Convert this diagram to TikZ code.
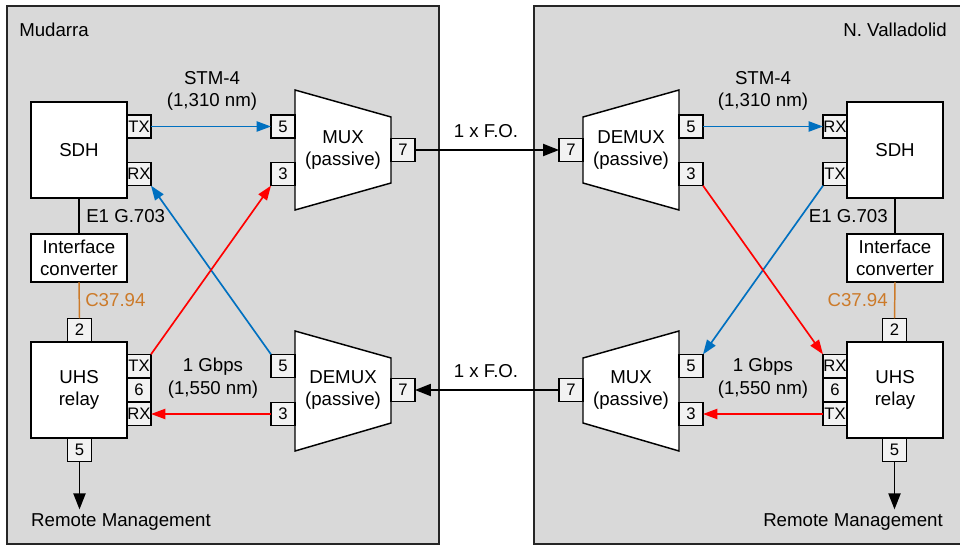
\documentclass[tikz,border=0pt]{standalone}
\usepackage{fontspec}
\setmainfont{Liberation Sans}
\usetikzlibrary{arrows.meta}
\definecolor{pgrau}{HTML}{D9D9D9}
\definecolor{hfill}{HTML}{F2F2F2}
\definecolor{fblau}{HTML}{0070C0}
\definecolor{frot}{HTML}{FF0000}
\definecolor{forange}{HTML}{CC7A29}
\newcommand{\btxt}{\fontsize{14}{16.8}\selectfont}
\newcommand{\ptxt}{\fontsize{12.5}{13}\selectfont}
\tikzset{
  panel/.style={fill=pgrau,draw=black!85,line width=1.1pt},
  unit/.style={draw,fill=white,line width=1.1pt,inner sep=0pt,outer sep=0pt,
    minimum width=72pt,minimum height=72pt,align=center,font=\btxt},
  conv/.style={unit,minimum height=36pt},
  port/.style={draw,fill=hfill,line width=1.1pt,inner sep=0pt,outer sep=0pt,
    minimum width=18pt,minimum height=17.5pt,font=\ptxt},
  trap/.style={draw,fill=white,line width=1.1pt,line join=miter},
  lbl/.style={align=center,font=\btxt,inner sep=0pt},
  fo/.style={-{Triangle[length=4.2mm,width=3.2mm]},black,line width=1.1pt},
  blau/.style={-{Triangle[length=3.8mm,width=2.7mm]},fblau,line width=1.25pt},
  rot/.style={-{Triangle[length=3.8mm,width=2.7mm]},frot,line width=1.25pt},
  tlink/.style={black,line width=1.1pt},
}

\begin{document}
\begin{tikzpicture}[x=0.75pt,y=-0.75pt]
  \useasboundingbox (0,0) rectangle (960,546);
  \clip (0,0) rectangle (960,546);
  % Stationen
  \draw[panel] (7,6) rectangle (439,544);
  \draw[panel] (534,6) rectangle (975,544);
  \node[lbl,anchor=west] (mud) at (19,30) {Mudarra};
  \node[lbl,anchor=east] (val) at (947,30) {N. Valladolid};

  % Mudarra
  \node[unit] (sdhL) at (79,150) {SDH};
  \node[port] (txL) at (139,126.5) {TX};
  \node[port] (rxL) at (139,174) {RX};
  \node[conv] (convL) at (79,258) {Interface\\converter};
  \node[unit] (relL) at (79,390) {UHS\\relay};
  \node[port] (inL) at (79.5,330) {2};
  \node[port] (rtxL) at (139,366) {TX};
  \node[port] (r6L) at (139,390) {6};
  \node[port] (rrxL) at (139,414) {RX};
  \node[port] (mgL) at (79.5,450) {5};
  \draw[trap] (295,90) -- (391,117) -- (391,183) -- (295,210) -- cycle;
  \node[lbl] (muxL) at (343,150) {MUX\\(passive)};
  \node[port] (mx5L) at (283,126.5) {5};
  \node[port] (mx3L) at (283,174) {3};
  \node[port] (mx7L) at (403,150) {7};
  \draw[trap] (295,331) -- (391,358) -- (391,423) -- (295,451) -- cycle;
  \node[lbl] (dmxL) at (343,390) {DEMUX\\(passive)};
  \node[port] (dm5L) at (283,366) {5};
  \node[port] (dm3L) at (283,414) {3};
  \node[port] (dm7L) at (403,390) {7};
  \node[lbl] (stmL) at (212,91) {STM-4\\(1,310 nm)};
  \node[lbl] (gbL) at (213,378) {1 Gbps\\(1,550 nm)};
  \node[lbl,anchor=west] (e1L) at (86,216) {E1 G.703};
  \node[lbl,anchor=west,forange] (cL) at (85,300) {C37.94};
  \node[lbl] (rmL) at (121,522) {Remote Management};

  % N. Valladolid
  \node[unit] (sdhR) at (895,150) {SDH};
  \node[port] (rxR) at (835,126.5) {RX};
  \node[port] (txR) at (835,174) {TX};
  \node[conv] (convR) at (895,258) {Interface\\converter};
  \node[unit] (relR) at (895,390) {UHS\\relay};
  \node[port] (inR) at (894.5,330) {2};
  \node[port] (rrxR) at (835,366) {RX};
  \node[port] (r6R) at (835,390) {6};
  \node[port] (rtxR) at (835,414) {TX};
  \node[port] (mgR) at (894.5,450) {5};
  \draw[trap] (583,117) -- (679,90) -- (679,210) -- (583,183) -- cycle;
  \node[lbl] (dmxR) at (631,150) {DEMUX\\(passive)};
  \node[port] (dm7R) at (571,150) {7};
  \node[port] (dm5R) at (691,126.5) {5};
  \node[port] (dm3R) at (691,174) {3};
  \draw[trap] (583,358) -- (679,331) -- (679,451) -- (583,423) -- cycle;
  \node[lbl] (muxR) at (631,390) {MUX\\(passive)};
  \node[port] (mx7R) at (571,390) {7};
  \node[port] (mx5R) at (691,366) {5};
  \node[port] (mx3R) at (691,414) {3};
  \node[lbl] (stmR) at (763,91) {STM-4\\(1,310 nm)};
  \node[lbl] (gbR) at (763,378) {1 Gbps\\(1,550 nm)};
  \node[lbl,anchor=east] (e1R) at (888,216) {E1 G.703};
  \node[lbl,anchor=east,forange] (cR) at (888,300) {C37.94};
  \node[lbl] (rmR) at (853,522) {Remote Management};

  % Glasfaser
  \node[lbl] (foA) at (486,131) {1 x F.O.};
  \node[lbl] (foB) at (486,371) {1 x F.O.};
  \draw[fo] (mx7L.east) -- (dm7R.west);
  \draw[fo] (mx7R.west) -- (dm7L.east);

  % Verbindungen
  \draw[tlink] (sdhL.south) -- (convL.north);
  \draw[tlink] (sdhR.south) -- (convR.north);
  \draw[forange,line width=1.1pt] (convL.south) -- (inL.north);
  \draw[forange,line width=1.1pt] (convR.south) -- (inR.north);
  \draw[fo,shorten >=3pt] (mgL.south) -- (mgL.south |- rmL.north);
  \draw[fo,shorten >=3pt] (mgR.south) -- (mgR.south |- rmR.north);
  \draw[blau] (txL.east) -- (mx5L.west);
  \draw[blau] (dm5L.north west) -- (rxL.south east);
  \draw[rot] (rtxL.north east) -- (mx3L.south west);
  \draw[rot] (dm3L.west) -- (rrxL.east);
  \draw[blau] (dm5R.east) -- (rxR.west);
  \draw[blau] (txR.south west) -- (mx5R.north east);
  \draw[rot] (dm3R.south east) -- (rrxR.north west);
  \draw[rot] (rtxR.west) -- (mx3R.east);
\end{tikzpicture}
\end{document}
